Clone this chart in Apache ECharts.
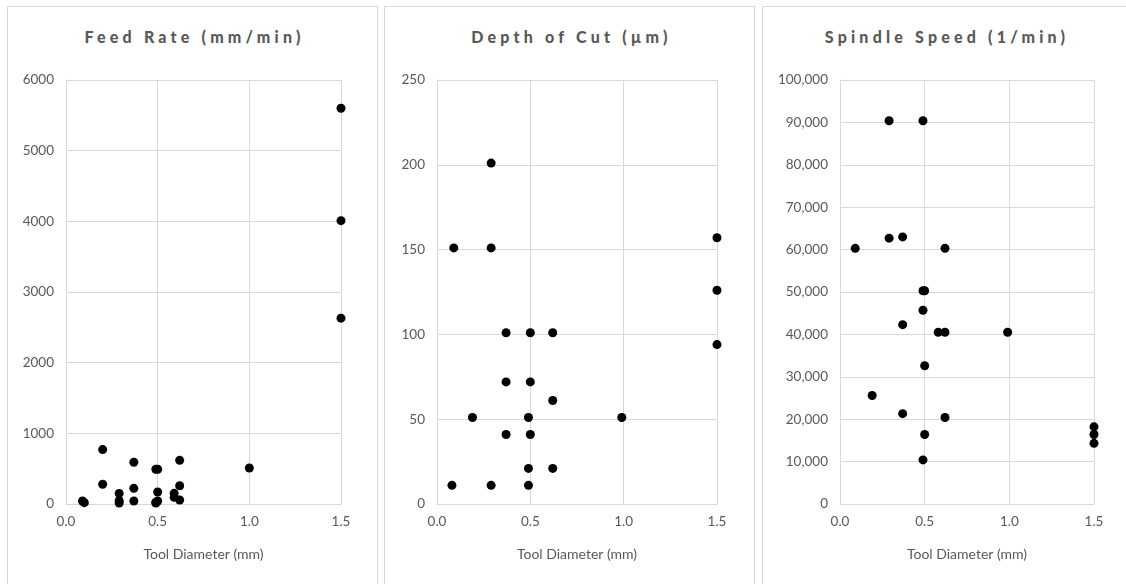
<!DOCTYPE html>
<html>
<head>
<meta charset="utf-8">
<script src="https://cdn.jsdelivr.net/npm/echarts@6/dist/echarts.min.js"></script>
<style>
html,body{margin:0;padding:0;background:#fff;}
#wrap{position:relative;width:1126px;height:584px;overflow:hidden;}
.panel{position:absolute;border:1px solid #d9d9d9;box-sizing:border-box;}
.ttl{position:absolute;text-align:center;font-family:Lato,"Open Sans",sans-serif;font-weight:900;font-size:16px;color:#595959;letter-spacing:4.2px;white-space:nowrap;}
#chart{position:absolute;left:0;top:0;width:1126px;height:584px;}
</style>
</head>
<body>
<div id="wrap">
  <div class="panel" style="left:7px;top:6px;width:371px;height:600px;"></div>
  <div class="panel" style="left:384px;top:6px;width:371px;height:600px;"></div>
  <div class="panel" style="left:762px;top:6px;width:380px;height:600px;"></div>
  <div class="ttl" style="left:9px;width:371px;top:27px;">Feed Rate (mm/min)</div>
  <div class="ttl" style="left:386px;width:371px;top:27px;">Depth of Cut (µm)</div>
  <div class="ttl" style="left:764px;width:366px;top:27px;">Spindle Speed (1/min)</div>
  <div id="chart"></div>
</div>
<script>
// Tool diameter (mm) vs Feed rate (mm/min)
const feedRate = [
  [1.5,5600],[1.5,4010],[1.5,2630],[0.2,770],[0.2,280],[0.09,42],[0.1,19],
  [0.29,150],[0.29,47],[0.29,14],[0.37,590],[0.37,222],[0.37,42],
  [0.49,491],[0.5,491],[0.5,170],[0.49,24],[0.5,42],[0.49,14],
  [0.62,618],[0.62,258],[0.59,151],[0.59,94],[0.62,57],[1.0,509]
];
// Tool diameter (mm) vs Depth of cut (µm)
const depthOfCut = [
  [0.29,201],[0.09,151],[0.29,151],[1.5,157],[1.5,126],[1.5,94],
  [0.37,101],[0.5,101],[0.62,101],[0.37,72],[0.5,72],[0.62,61],
  [0.19,51],[0.49,51],[0.99,51],[0.37,41],[0.5,41],
  [0.49,21],[0.62,21],[0.08,11],[0.29,11],[0.49,11]
];
// Tool diameter (mm) vs Spindle speed (1/min)
const spindleSpeed = [
  [0.29,90400],[0.49,90400],[0.29,62700],[0.37,63000],[0.09,60300],[0.62,60300],
  [0.49,50300],[0.5,50300],[0.49,45700],[0.37,42300],[0.58,40500],[0.62,40500],
  [0.99,40500],[0.5,32600],[0.19,25600],[0.37,21300],[0.62,20400],
  [1.5,18200],[1.5,16400],[1.5,14300],[0.5,16400],[0.49,10400]
];
const xName = 'Tool Diameter (mm)';
const xTicks = {min:0, max:1.5, interval:0.5};
const yAxes = [
  {min:0, max:6000, interval:1000, comma:false},
  {min:0, max:250, interval:50, comma:false},
  {min:0, max:100000, interval:10000, comma:true}
];
const seriesData = [feedRate, depthOfCut, spindleSpeed];

const font = 'Lato, "Open Sans", sans-serif';
const labelColor = '#595959';
const gridColor = '#d9d9d9';
const grids = [
  {left:66, top:80, width:275, height:424},
  {left:437, top:80, width:280, height:424},
  {left:840, top:80, width:254, height:424}
];
const chart = echarts.init(document.getElementById('chart'), null, {renderer:'canvas'});
chart.setOption({
  animation:false,
  backgroundColor:'transparent',
  grid: grids,
  xAxis: grids.map((g,i)=>({
    type:'value', gridIndex:i, min:xTicks.min, max:xTicks.max, interval:xTicks.interval,
    name:xName, nameLocation:'middle', nameGap:43,
    nameTextStyle:{color:labelColor, fontFamily:font, fontSize:14},
    axisLine:{show:true, onZero:false, lineStyle:{color:gridColor, width:1}},
    axisTick:{show:false},
    axisLabel:{color:labelColor, fontFamily:font, fontSize:13.5, margin:11, formatter:v=>v.toFixed(1)},
    splitLine:{show:true, lineStyle:{color:gridColor, width:1}}
  })),
  yAxis: yAxes.map((a,i)=>({
    type:'value', gridIndex:i, min:a.min, max:a.max, interval:a.interval,
    axisLine:{show:true, lineStyle:{color:gridColor, width:1}},
    axisTick:{show:false},
    axisLabel:{color:labelColor, fontFamily:font, fontSize:13.5, margin:12,
      formatter: v => a.comma ? v.toLocaleString('en-US') : String(v)},
    splitLine:{show:true, lineStyle:{color:gridColor, width:1}}
  })),
  series: seriesData.map((d,i)=>({
    type:'scatter', xAxisIndex:i, yAxisIndex:i, data:d,
    symbol:'circle', symbolSize:9, itemStyle:{color:'#000', opacity:1}
  }))
});
</script>
</body>
</html>
